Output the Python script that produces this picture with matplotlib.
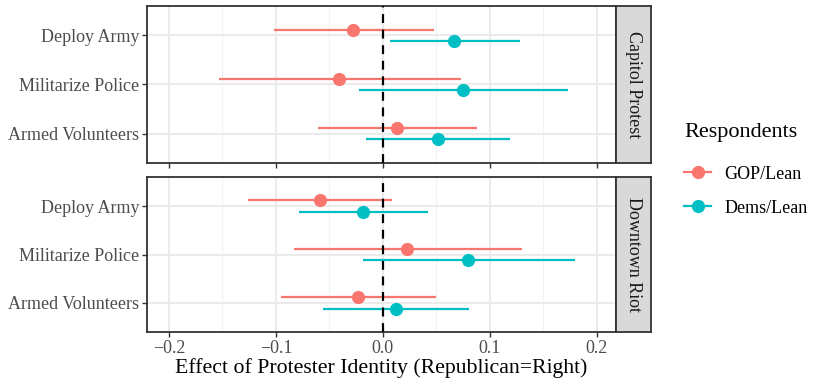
import matplotlib
matplotlib.use("Agg")
import matplotlib.pyplot as plt
from matplotlib.lines import Line2D
import numpy as np

plt.rcParams['font.family'] = ['Liberation Serif', 'DejaVu Serif']

categories = ["Armed Volunteers", "Militarize Police", "Deploy Army"]
panels = ["Capitol Protest", "Downtown Riot"]
groups = ["GOP/Lean", "Dems/Lean"]
colors = {"GOP/Lean": "#F8766D", "Dems/Lean": "#00BFC4"}

# estimates and intervals, order follows categories
capitol_gop = [0.013, -0.041, -0.028]
capitol_gop_lo = [-0.061, -0.153, -0.102]
capitol_gop_hi = [0.088, 0.073, 0.048]
capitol_dem = [0.052, 0.075, 0.067]
capitol_dem_lo = [-0.016, -0.022, 0.007]
capitol_dem_hi = [0.119, 0.173, 0.128]

riot_gop = [-0.023, 0.023, -0.059]
riot_gop_lo = [-0.095, -0.083, -0.126]
riot_gop_hi = [0.050, 0.130, 0.009]
riot_dem = [0.012, 0.080, -0.019]
riot_dem_lo = [-0.056, -0.019, -0.078]
riot_dem_hi = [0.081, 0.180, 0.042]

data = {
    "Capitol Protest": {
        "GOP/Lean": (capitol_gop, capitol_gop_lo, capitol_gop_hi),
        "Dems/Lean": (capitol_dem, capitol_dem_lo, capitol_dem_hi),
    },
    "Downtown Riot": {
        "GOP/Lean": (riot_gop, riot_gop_lo, riot_gop_hi),
        "Dems/Lean": (riot_dem, riot_dem_lo, riot_dem_hi),
    },
}
offsets = {"GOP/Lean": 0.12, "Dems/Lean": -0.12}

fig = plt.figure(figsize=(8.16, 3.86), dpi=100)
W, H = 816, 386

def box(x0, y0, x1, y1):
    return [x0 / W, 1 - y1 / H, (x1 - x0) / W, (y1 - y0) / H]

panel_px = [(6, 163), (177, 332)]
ypos = np.arange(1, len(categories) + 1)

for i, name in enumerate(panels):
    t, b = panel_px[i]
    ax = fig.add_axes(box(147, t, 616, b))
    ax.set_facecolor("white")
    ax.set_xlim(-0.2205, 0.218)
    ax.set_ylim(0.4, 3.6)
    for xm in [-0.15, -0.05, 0.05, 0.15]:
        ax.axvline(xm, color="#F2F2F2", lw=0.8, zorder=0)
    for xm in [-0.2, -0.1, 0.0, 0.1, 0.2]:
        ax.axvline(xm, color="#EBEBEB", lw=1.4, zorder=0)
    for y in ypos:
        ax.axhline(y, color="#EBEBEB", lw=1.4, zorder=0)
    ax.axvline(0, color="black", lw=1.6, ls=(0, (4, 3)), zorder=3)
    for g in groups:
        est, lo, hi = data[name][g]
        yy = ypos + offsets[g]
        ax.hlines(yy, lo, hi, color=colors[g], lw=1.6, zorder=2)
        ax.plot(est, yy, "o", color=colors[g], ms=8.5, zorder=4)
    ax.set_yticks(ypos)
    ax.set_yticklabels(categories, fontsize=13, color="#4D4D4D")
    ax.set_xticks([-0.2, -0.1, 0.0, 0.1, 0.2])
    if i == 1:
        ax.set_xticklabels(["\u22120.2", "\u22120.1", "0.0", "0.1", "0.2"],
                           fontsize=13, color="#4D4D4D")
        ax.set_xlabel("Effect of Protester Identity (Republican=Right)",
                      fontsize=15.7, labelpad=1)
    else:
        ax.set_xticklabels([])
    ax.tick_params(length=3.5, width=1, color="#333333", pad=2)
    for s in ax.spines.values():
        s.set_color("#333333")
        s.set_linewidth(1.3)

    # facet strip
    sx = fig.add_axes(box(616, t, 651, b))
    sx.set_facecolor("#D9D9D9")
    sx.set_xticks([])
    sx.set_yticks([])
    for s in sx.spines.values():
        s.set_color("#333333")
        s.set_linewidth(1.3)
    sx.text(0.5, 0.5, name, rotation=-90, ha="center", va="center",
            fontsize=13, color="#1A1A1A", transform=sx.transAxes)

handles = [Line2D([0], [0], color=colors[g], lw=1.6, marker="o", ms=8.5)
           for g in groups]
leg = fig.legend(handles, groups, loc="upper left",
                 bbox_to_anchor=(684 / W, 1 - 123 / H), frameon=False,
                 fontsize=13, title="Respondents", title_fontsize=16,
                 handlelength=1.5, labelspacing=0.95, handletextpad=0.75,
                 borderpad=0, borderaxespad=0)
leg._legend_box.align = "left"
leg._legend_box.sep = 17

fig.savefig("out.png", dpi=100)
